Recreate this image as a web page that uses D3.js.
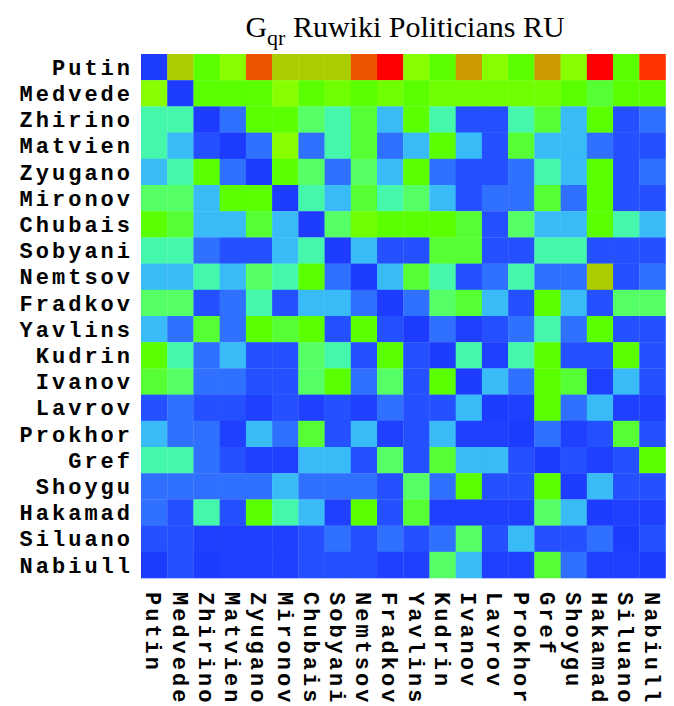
<!DOCTYPE html>
<html>
<head>
<meta charset="utf-8">
<script src="https://cdn.jsdelivr.net/npm/d3@7"></script>
<style>
  body { margin: 0; background: #fff; }
</style>
</head>
<body>
<script>
// politicians, same order on both axes
const names = ["Putin", "Medvede", "Zhirino", "Matvien", "Zyugano", "Mironov", "Chubais",
  "Sobyani", "Nemtsov", "Fradkov", "Yavlins", "Kudrin", "Ivanov", "Lavrov", "Prokhor",
  "Gref", "Shoygu", "Hakamad", "Siluano", "Nabiull"]

// G_qr values (relative, 0 = lowest, 1 = highest), one row per politician
const values = [
  [0, .75, .6, .7, .9, .75, .75, .75, .9, 1, .7, .6, .8, .7, .6, .8, .7, 1, .6, .95],
  [.7, 0, .6, .6, .6, .7, .6, .65, .6, .65, .6, .65, .65, .65, .65, .65, .6, .55, .6, .6],
  [.4, .4, 0, .2, .6, .6, .5, .4, .55, .3, .6, .4, .1, .1, .4, .55, .3, .6, .1, .2],
  [.4, .3, .1, 0, .2, .7, .2, .4, .55, .2, .3, .6, .3, .1, .55, .3, .3, .2, .1, .1],
  [.3, .4, .6, .2, 0, .6, .5, .2, .5, .3, .6, .2, .1, .1, .2, .4, .3, .6, .1, .2],
  [.5, .5, .3, .6, .6, 0, .4, .3, .55, .4, .5, .3, .1, .2, .2, .55, .2, .6, .1, .1],
  [.6, .55, .3, .3, .55, .3, 0, .5, .65, .6, .6, .6, .55, .1, .5, .3, .3, .6, .4, .3],
  [.4, .4, .2, .1, .1, .3, .4, 0, .3, .1, .1, .55, .55, .1, .1, .4, .4, .1, .1, .1],
  [.3, .3, .4, .3, .5, .4, .6, .2, 0, .3, .55, .4, .1, .2, .4, .2, .2, .75, .1, .2],
  [.5, .5, .1, .2, .4, .1, .3, .3, .2, 0, .2, .5, .55, .3, .1, .6, .3, .1, .5, .5],
  [.3, .2, .55, .2, .6, .55, .6, .1, .6, .1, 0, .2, .04, .1, .2, .4, .2, .6, .1, .1],
  [.6, .4, .2, .3, .1, .1, .5, .4, .1, .6, .1, 0, .4, .04, .4, .6, .1, .1, .6, .1],
  [.55, .5, .2, .2, .1, .1, .5, .6, .2, .5, .1, .6, 0, .3, .2, .6, .55, .04, .3, .1],
  [.1, .2, .1, .1, .04, .1, .04, .1, .04, .2, .1, .1, .3, 0, .04, .6, .2, .3, .04, .04],
  [.3, .2, .2, .04, .3, .2, .55, .1, .3, .04, .1, .3, .04, .04, 0, .2, .04, .1, .55, .1],
  [.4, .4, .2, .1, .04, .04, .3, .3, .1, .5, .1, .55, .3, .3, .1, 0, .1, .04, .1, .6],
  [.2, .2, .2, .2, .2, .3, .2, .2, .2, .1, .5, .2, .6, .1, .1, .6, 0, .3, .1, .1],
  [.2, .1, .4, .1, .6, .4, .3, .04, .6, .1, .55, .04, .04, .04, .04, .5, .3, 0, .04, .04],
  [.1, .1, .04, .04, .04, .04, .1, .2, .1, .2, .1, .2, .5, .1, .3, .1, .1, .2, 0, .1],
  [0, .1, 0, .04, .04, .04, .1, .1, .1, .04, .04, .5, .3, .04, .04, .55, .2, .04, .04, 0]
]

var svg = d3.select("body")
  .append("svg")
  .attr("width", 674)
  .attr("height", 706)

// blue -> green -> red palette
var color = d3.scaleLinear()
  .domain([0, .04, .1, .2, .3, .4, .5, .55, .6, .65, .7, .75, .8, .9, .95, 1])
  .range(["#1e3cff", "#2040ff", "#2450ff", "#3070ff", "#38bbf7", "#44f7aa", "#55ff66",
    "#55ff33", "#5aff00", "#70ff00", "#88ff00", "#aacc00", "#cc9900", "#ee5500", "#ff3300", "#ff0000"])
  .clamp(true)

var x = d3.scaleBand().domain(names).range([141, 665.5])
var y = d3.scaleBand().domain(names).range([54, 578])

// flatten matrix into cells
var cells = []
values.forEach((row, i) => {
  row.forEach((v, j) => cells.push({ row: names[i], col: names[j], v: v }))
})

svg.append("g")
  .selectAll("rect")
  .data(cells)
  .enter()
  .append("rect")
  .attr("x", d => x(d.col))
  .attr("y", d => y(d.row))
  .attr("width", x.bandwidth() + 0.3)
  .attr("height", y.bandwidth() + 0.3)
  .attr("fill", d => color(d.v))

const labelFont = "'Liberation Mono', 'Courier New', monospace"

// row labels
svg.append("g")
  .selectAll("text")
  .data(names)
  .enter()
  .append("text")
  .attr("x", 133)
  .attr("y", d => y(d) + y.bandwidth() / 2)
  .attr("dy", "0.35em")
  .attr("text-anchor", "end")
  .style("font-family", labelFont)
  .style("font-weight", "bold")
  .style("font-size", "22px")
  .style("letter-spacing", "3px")
  .text(d => d)

// column labels, rotated
svg.append("g")
  .selectAll("text")
  .data(names)
  .enter()
  .append("text")
  .attr("transform", d => "translate(" + (x(d) + x.bandwidth() / 2) + ",592) rotate(90)")
  .attr("dy", "0.35em")
  .attr("text-anchor", "start")
  .style("font-family", labelFont)
  .style("font-weight", "bold")
  .style("font-size", "22px")
  .style("letter-spacing", "3px")
  .text(d => d)

// title with subscript
var title = svg.append("text")
  .attr("x", 405)
  .attr("y", 37)
  .attr("text-anchor", "middle")
  .style("font-family", "'Liberation Serif', 'Times New Roman', serif")
  .style("font-size", "30px")
title.append("tspan").text("G")
title.append("tspan").attr("dy", 8).style("font-size", "22px").text("qr")
title.append("tspan").attr("dy", -8).text(" Ruwiki Politicians RU")
</script>
</body>
</html>
